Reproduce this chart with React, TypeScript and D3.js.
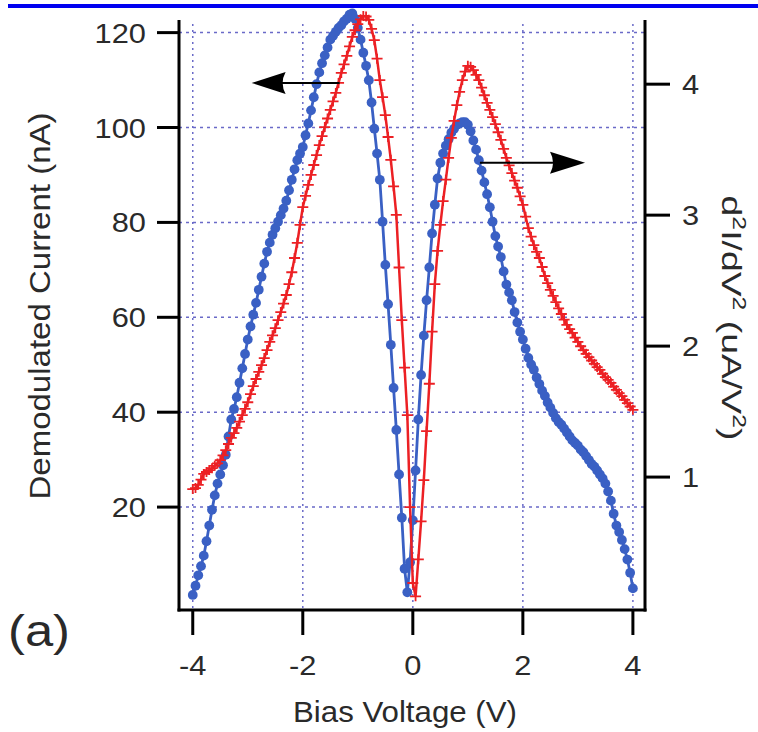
import React from "react";
import * as d3 from "d3";

// Bias voltage samples (V)
const voltage = [
  -4.0, -3.95, -3.9, -3.85, -3.8, -3.75, -3.7, -3.65, -3.6, -3.55,
  -3.5, -3.45, -3.4, -3.35, -3.3, -3.25, -3.2, -3.15, -3.1, -3.05,
  -3.0, -2.95, -2.9, -2.85, -2.8, -2.75, -2.7, -2.65, -2.6, -2.55,
  -2.5, -2.45, -2.4, -2.35, -2.3, -2.25, -2.2, -2.15, -2.1, -2.05,
  -2.0, -1.95, -1.9, -1.85, -1.8, -1.75, -1.7, -1.65, -1.6, -1.55,
  -1.5, -1.45, -1.4, -1.35, -1.3, -1.25, -1.2, -1.15, -1.1, -1.05,
  -1.0, -0.95, -0.9, -0.85, -0.8, -0.75, -0.7, -0.65, -0.6, -0.55,
  -0.5, -0.45, -0.4, -0.35, -0.3, -0.25, -0.2, -0.15, -0.1, -0.05,
  0.0, 0.05, 0.1, 0.15, 0.2, 0.25, 0.3, 0.35, 0.4, 0.45,
  0.5, 0.55, 0.6, 0.65, 0.7, 0.75, 0.8, 0.85, 0.9, 0.95,
  1.0, 1.05, 1.1, 1.15, 1.2, 1.25, 1.3, 1.35, 1.4, 1.45,
  1.5, 1.55, 1.6, 1.65, 1.7, 1.75, 1.8, 1.85, 1.9, 1.95,
  2.0, 2.05, 2.1, 2.15, 2.2, 2.25, 2.3, 2.35, 2.4, 2.45,
  2.5, 2.55, 2.6, 2.65, 2.7, 2.75, 2.8, 2.85, 2.9, 2.95,
  3.0, 3.05, 3.1, 3.15, 3.2, 3.25, 3.3, 3.35, 3.4, 3.45,
  3.5, 3.55, 3.6, 3.65, 3.7, 3.75, 3.8, 3.85, 3.9, 3.95, 4.0,
];

// Red series: demodulated current (nA), left axis
const demodCurrent = [
  23.8, 24.0, 24.7, 25.8, 27.0, 27.4, 27.8, 28.2, 28.7, 29.2,
  29.9, 30.9, 32.0, 33.3, 34.6, 35.6, 36.7, 38.0, 39.4, 40.7,
  42.1, 43.8, 45.5, 47.0, 48.5, 49.9, 51.4, 53.1, 54.8, 56.2,
  57.7, 59.4, 61.1, 62.9, 64.7, 67.0, 69.5, 72.5, 75.7, 79.5,
  83.2, 85.6, 87.9, 90.0, 92.1, 94.2, 96.3, 98.2, 100.1, 101.9,
  103.7, 105.5, 107.3, 109.4, 111.5, 113.3, 115.1, 117.1, 119.1, 120.5,
  121.8, 122.8, 123.5, 123.4, 122.7, 120.8, 118.4, 114.5, 110.0, 106.4,
  102.6, 98.0, 93.2, 87.6, 81.6, 70.5, 59.4, 49.4, 39.4, 20.0,
  4.0, 1.2, 9.0, 17.0, 25.7, 36.0, 46.0, 57.0, 67.0, 74.0,
  79.5, 84.5, 89.0, 93.6, 97.8, 101.4, 104.7, 107.5, 110.0, 111.8,
  113.0, 112.8, 112.1, 111.1, 110.0, 108.4, 106.8, 105.2, 103.7, 102.2,
  100.7, 99.0, 97.4, 95.5, 93.6, 92.0, 90.4, 88.8, 87.3, 85.5,
  83.7, 81.2, 78.8, 77.0, 75.2, 73.8, 72.5, 70.6, 68.7, 67.2,
  65.8, 64.5, 63.2, 61.9, 60.7, 59.5, 58.4, 57.5, 56.7, 55.7,
  54.8, 53.9, 53.1, 52.3, 51.6, 50.9, 50.2, 49.5, 48.9, 48.1,
  47.4, 46.8, 46.2, 45.4, 44.7, 44.0, 43.4, 42.6, 41.9, 41.2, 40.5,
];

// Blue series: d2I/dV2 (uA/V^2), right axis
const d2IdV2 = [
  0.10, 0.17, 0.25, 0.32, 0.40, 0.51, 0.63, 0.75, 0.86, 0.95,
  1.02, 1.09, 1.17, 1.31, 1.44, 1.52, 1.61, 1.72, 1.83, 1.94,
  2.05, 2.15, 2.24, 2.33, 2.43, 2.53, 2.63, 2.72, 2.79, 2.85,
  2.90, 2.95, 3.00, 3.05, 3.11, 3.19, 3.27, 3.35, 3.42, 3.47,
  3.52, 3.61, 3.70, 3.80, 3.90, 4.00, 4.09, 4.16, 4.22, 4.28,
  4.34, 4.37, 4.40, 4.43, 4.45, 4.48, 4.50, 4.53, 4.54, 4.50,
  4.43, 4.34, 4.24, 4.14, 4.03, 3.86, 3.66, 3.47, 3.27, 2.95,
  2.62, 2.32, 2.01, 1.68, 1.36, 1.02, 0.69, 0.30, 0.12, 0.35,
  0.67, 1.05, 1.44, 1.78, 2.08, 2.35, 2.60, 2.86, 3.08, 3.28,
  3.40, 3.47, 3.53, 3.58, 3.63, 3.66, 3.69, 3.70, 3.71, 3.71,
  3.69, 3.64, 3.57, 3.50, 3.42, 3.34, 3.25, 3.16, 3.06, 2.95,
  2.84, 2.76, 2.68, 2.57, 2.47, 2.41, 2.35, 2.26, 2.18, 2.11,
  2.05, 1.98, 1.91, 1.86, 1.82, 1.76, 1.71, 1.66, 1.62, 1.57,
  1.53, 1.49, 1.45, 1.42, 1.40, 1.37, 1.34, 1.31, 1.28, 1.26,
  1.24, 1.21, 1.19, 1.16, 1.13, 1.10, 1.08, 1.05, 1.02, 0.99,
  0.95, 0.89, 0.82, 0.72, 0.63, 0.58, 0.52, 0.45, 0.37, 0.27, 0.15,
];

const xTicks = [-4, -2, 0, 2, 4];
const leftTicks = [20, 40, 60, 80, 100, 120];
const rightTicks = [1, 2, 3, 4];

// Arrow annotations (data units)
const leftArrow = { from: -1.33, to: -2.93, y: 109.4 };
const rightArrow = { from: 1.22, to: 3.13, y: 3.4 };

const W = 758;
const H = 732;
const FONT = "'Liberation Sans', Arial, Helvetica, sans-serif";

export default function App() {
  const x = d3.scaleLinear().domain([-4.25, 4.22]).range([179, 645]);
  const yL = d3.scaleLinear().domain([-1.69, 122.66]).range([610, 20]);
  const yR = d3.scaleLinear().domain([-0.015, 4.49]).range([610, 20]);

  const [x0, x1] = x.range();
  const [yb, yt] = yL.range();

  const redPts: [number, number][] = voltage.map((v, i) => [x(v), yL(demodCurrent[i])]);
  const bluePts: [number, number][] = voltage.map((v, i) => [x(v), yR(d2IdV2[i])]);
  const line = d3.line();

  const gridColor = "#6a6ac8";
  const blue = "#3a60c4";
  const red = "#ec2024";
  const txt = "#2a2a2a";

  const la = { x1: x(leftArrow.from), x2: x(leftArrow.to), y: yL(leftArrow.y) };
  const ra = { x1: x(rightArrow.from), x2: x(rightArrow.to), y: yR(rightArrow.y) };

  return (
    <svg
      width={W}
      height={H}
      style={{ position: "absolute", left: 0, top: 0, background: "#fff" }}
      fontFamily={FONT}
    >
      <rect x={0} y={0} width={W} height={H} fill="#fff" />
      <rect x={8} y={4} width={W - 8} height={4} fill="#0000f0" />

      {/* grid */}
      {leftTicks.map((t) => (
        <line key={"hg" + t} x1={x0} x2={x1} y1={yL(t)} y2={yL(t)} stroke={gridColor}
          strokeWidth={1.5} strokeDasharray="3,4" />
      ))}
      {xTicks.map((t) => (
        <line key={"vg" + t} x1={x(t)} x2={x(t)} y1={yt + 4} y2={yb} stroke={gridColor}
          strokeWidth={1.5} strokeDasharray="2,4" />
      ))}

      {/* blue series */}
      <path d={line(bluePts) || ""} fill="none" stroke={blue} strokeWidth={2.8} />
      {bluePts.map(([px, py], i) => (
        <circle key={"b" + i} cx={px} cy={py} r={4.9} fill={blue} />
      ))}

      {/* red series */}
      <path d={line(redPts) || ""} fill="none" stroke={red} strokeWidth={2.5} />
      {redPts.map(([px, py], i) => (
        <path key={"r" + i} d={`M${px - 5.5},${py}H${px + 5.5}M${px},${py - 5}V${py + 5}`}
          stroke={red} strokeWidth={1.8} fill="none" />
      ))}

      {/* arrows */}
      <line x1={la.x1} x2={la.x2 + 30} y1={la.y} y2={la.y} stroke="#000" strokeWidth={2} />
      <path d={`M${la.x2},${la.y} L${la.x2 + 34},${la.y - 11} Q${la.x2 + 28},${la.y} ${la.x2 + 34},${la.y + 11} Z`} fill="#000" />
      <line x1={ra.x1} x2={ra.x2 - 30} y1={ra.y} y2={ra.y} stroke="#000" strokeWidth={2} />
      <path d={`M${ra.x2},${ra.y} L${ra.x2 - 35},${ra.y - 11} Q${ra.x2 - 29},${ra.y} ${ra.x2 - 35},${ra.y + 11} Z`} fill="#000" />

      {/* axes */}
      <line x1={x0} x2={x0} y1={yt} y2={yb + 1.5} stroke="#000" strokeWidth={3} />
      <line x1={x1} x2={x1} y1={yt} y2={yb + 1.5} stroke="#000" strokeWidth={3} />
      <line x1={x0 - 1.5} x2={x1 + 1.5} y1={yb} y2={yb} stroke="#000" strokeWidth={3} />

      {leftTicks.map((t) => (
        <g key={"lt" + t}>
          <line x1={x0 - 22} x2={x0} y1={yL(t)} y2={yL(t)} stroke="#000" strokeWidth={3} />
          <text x={146} y={yL(t)} dy="0.36em" textAnchor="end" fontSize={28} fill={txt}
            transform={`translate(146,0) scale(1.1,1) translate(-146,0)`}>{t}</text>
        </g>
      ))}
      {rightTicks.map((t) => (
        <g key={"rt" + t}>
          <line x1={x1} x2={x1 + 25} y1={yR(t)} y2={yR(t)} stroke="#000" strokeWidth={3} />
          <text x={682} y={yR(t)} dy="0.36em" textAnchor="start" fontSize={28} fill={txt}
            transform={`translate(682,0) scale(1.1,1) translate(-682,0)`}>{t}</text>
        </g>
      ))}
      {xTicks.map((t) => (
        <g key={"xt" + t}>
          <line x1={x(t)} x2={x(t)} y1={yb} y2={yb + 25} stroke="#000" strokeWidth={3} />
          <text x={x(t)} y={675} textAnchor="middle" fontSize={28} fill={txt}
            transform={`translate(${x(t)},0) scale(1.1,1) translate(${-x(t)},0)`}>{t}</text>
        </g>
      ))}

      {/* axis titles */}
      <text x={405} y={722} textAnchor="middle" fontSize={29} fill={txt}
        textLength={224} lengthAdjust="spacingAndGlyphs">Bias Voltage (V)</text>
      <text transform="translate(50,306) rotate(-90)" textAnchor="middle" fontSize={29} fill={txt}
        textLength={387} lengthAdjust="spacingAndGlyphs">Demodulated Current (nA)</text>
      <text transform="translate(722,318) rotate(90)" textAnchor="middle" fontSize={27} fill={txt}
        textLength={245} lengthAdjust="spacingAndGlyphs">
        d<tspan dy={-11} fontSize={18}>2</tspan><tspan dy={11}>I/dV</tspan>
        <tspan dy={-11} fontSize={18}>2</tspan><tspan dy={11}> (uA/V</tspan>
        <tspan dy={-11} fontSize={18}>2</tspan><tspan dy={11}>)</tspan>
      </text>
      <text x={8} y={646} fontSize={44} fill={txt} textLength={62} lengthAdjust="spacingAndGlyphs">(a)</text>
    </svg>
  );
}
